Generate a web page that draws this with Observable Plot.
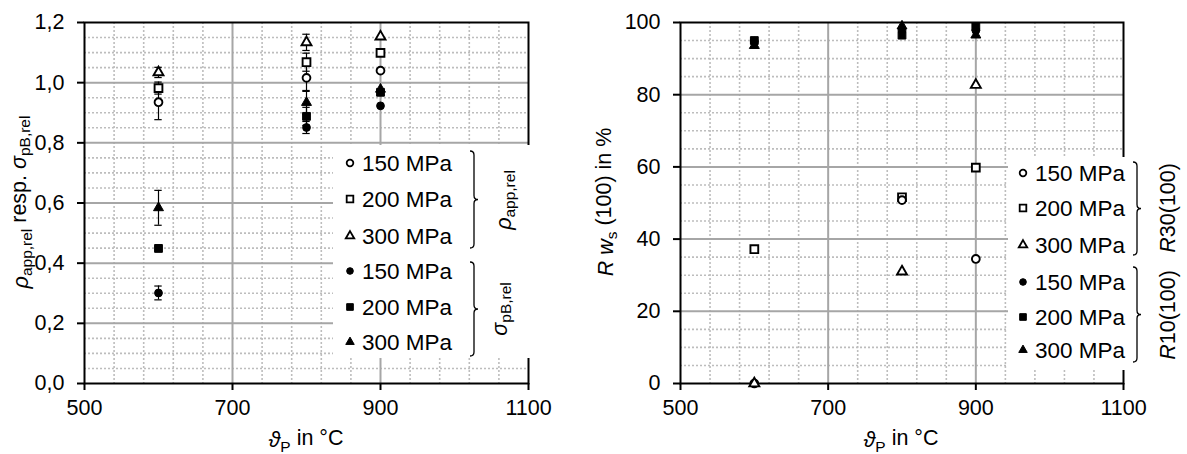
<!DOCTYPE html>
<html><head><meta charset="utf-8">
<script src="https://cdn.jsdelivr.net/npm/d3@7"></script>
<script src="https://cdn.jsdelivr.net/npm/@observablehq/plot@0.6"></script>
<style>
body{margin:0;background:#fff;}
#wrap{position:relative;width:1187px;height:454px;overflow:hidden;background:#fff;}
#wrap svg{position:absolute;top:0;}
</style></head><body><div id="wrap"></div>
<script>
// ---------- data ----------
const temps = [600, 800, 900];
const pressureLabels = ["150 MPa", "200 MPa", "300 MPa"];
const xTicks = [500, 700, 900, 1100];

// left panel: relative apparent density and relative bending strength
const rhoApp150 = [0.935, 1.016, 1.040];
const rhoApp200 = [0.982, 1.068, 1.099];
const rhoApp300 = [1.034, 1.134, 1.153];
const sigma150 = [0.301, 0.851, 0.923];
const sigma200 = [0.449, 0.888, 0.968];
const sigma300 = [0.584, 0.934, 0.978];
const rhoApp150Err = [0.058, 0.045, 0];
const rhoApp200Err = [0.02, 0.03, 0];
const rhoApp300Err = [0.017, 0.027, 0];
const sigma150Err = [0.023, 0.02, 0];
const sigma200Err = [0.005, 0.03, 0];
const sigma300Err = [0.058, 0.04, 0];
const leftYTicks = [0, 0.2, 0.4, 0.6, 0.8, 1.0, 1.2];

// right panel: water resistance R ws(100) in %
const r30_150 = [0, 50.8, 34.5];
const r30_200 = [37.2, 51.6, 59.8];
const r30_300 = [0, 31.0, 82.7];
const r10_150 = [94.8, 97.8, 97.8];
const r10_200 = [95.0, 96.5, 98.8];
const r10_300 = [93.6, 99.0, 96.5];
const rightYTicks = [0, 20, 40, 60, 80, 100];

const symbols = ["circle", "square", "triangle"];
const radii = {circle: 3.9, square: 4.4, triangle: 3.7};

// ---------- helpers ----------
const FONT = "'Liberation Sans', Arial, sans-serif";
const TICK_FS = 21.5, LEG_FS = 22.5;

function series(groupVals, groupErrs, filled) {
  const out = [];
  groupVals.forEach((vals, i) => {
    vals.forEach((v, j) => {
      out.push({x: temps[j], y: v, e: groupErrs ? groupErrs[i][j] : 0,
        symbol: symbols[i], filled, r: radii[symbols[i]]});
    });
  });
  return out;
}
function minorTicks(lo, hi, step, majors) {
  const t = [];
  for (let v = lo; v <= hi + 1e-9; v += step) {
    const r = Math.round(v * 1000) / 1000;
    if (!majors.some(m => Math.abs(m - r) < 1e-9)) t.push(r);
  }
  return t;
}

function makePlot({width, marginLeft, marginRight, yDomain, yTicks, yMinorStep, yFmt, data, withErr}) {
  const gridMajor = {stroke: "#a6a6a6", strokeOpacity: 1, strokeWidth: 2};
  const gridMinor = {stroke: "#bdbdbd", strokeOpacity: 1, strokeWidth: 1.6, strokeDasharray: "2,2"};
  const marks = [
    Plot.gridX(minorTicks(500, 1100, 40, xTicks), gridMinor),
    Plot.gridY(minorTicks(yDomain[0], yDomain[1], yMinorStep, yTicks), gridMinor),
    Plot.gridX(xTicks.slice(1, -1), gridMajor),
    Plot.gridY(yTicks.slice(1, -1), gridMajor),
    Plot.frame({stroke: "black", strokeWidth: 2}),
    Plot.axisX(xTicks, {tickSize: 7, tickPadding: 9, fontSize: TICK_FS, stroke: "black", strokeWidth: 2, fill: "black", tickFormat: d => String(d), label: null}),
    Plot.axisY(yTicks, {tickSize: 7, tickPadding: 13, fontSize: TICK_FS, stroke: "black", strokeWidth: 2, fill: "black", tickFormat: yFmt, label: null})
  ];
  if (withErr) {
    const errData = data.filter(d => d.e > 0);
    marks.push(Plot.ruleX(errData, {x: "x", y1: d => d.y - d.e, y2: d => d.y + d.e, stroke: "black", strokeWidth: 1.2}));
    marks.push(Plot.ruleY(errData, {y: d => d.y + d.e, x1: d => d.x - 5, x2: d => d.x + 5, stroke: "black", strokeWidth: 1.2}));
    marks.push(Plot.ruleY(errData, {y: d => d.y - d.e, x1: d => d.x - 5, x2: d => d.x + 5, stroke: "black", strokeWidth: 1.2}));
  }
  marks.push(Plot.dot(data, {x: "x", y: "y", symbol: "symbol", r: "r",
    fill: d => d.filled ? "black" : "white", stroke: "black", strokeWidth: d => d.filled ? 1 : 1.9}));
  return Plot.plot({
    width, height: 454, marginLeft, marginRight, marginTop: 22, marginBottom: 71,
    style: {fontFamily: FONT, fontSize: TICK_FS + "px", color: "black", background: "white"},
    x: {domain: [500, 1100], label: null},
    y: {domain: yDomain, label: null},
    symbol: {type: "identity"},
    r: {type: "identity"},
    marks
  });
}

function subText(sel, parts) {
  parts.forEach(([t, o = {}]) => {
    const ts = sel.append("tspan").text(t);
    if (o.italic) ts.attr("font-style", "italic");
    if (o.sub) ts.attr("font-size", "72%").attr("dy", "0.3em");
    if (o.unsub) ts.attr("dy", "-0.3em");
  });
}

function brace(g, x, y1, y2) {
  const r = 4, m = (y1 + y2) / 2;
  g.append("path").attr("fill", "none").attr("stroke", "black").attr("stroke-width", 1.3)
    .attr("d", `M${x},${y1} Q${x + r},${y1} ${x + r},${y1 + r} L${x + r},${m - r} Q${x + r},${m} ${x + 2 * r},${m} Q${x + r},${m} ${x + r},${m + r} L${x + r},${y2 - r} Q${x + r},${y2} ${x},${y2}`);
}

function legend(svg, {bx, by, bw, bh, mx, tx, rows, filledFrom}) {
  const g = d3.select(svg).append("g").attr("text-anchor", "start");
  g.append("rect").attr("x", bx).attr("y", by).attr("width", bw).attr("height", bh).attr("fill", "white");
  const sym = {circle: d3.symbolCircle, square: d3.symbolSquare, triangle: d3.symbolTriangle};
  rows.forEach((y, i) => {
    const s = symbols[i % 3];
    const filled = i >= filledFrom;
    const r = radii[s] * 0.85;
    g.append("path").attr("transform", `translate(${mx},${y})`)
      .attr("d", d3.symbol(sym[s], Math.PI * r * r)())
      .attr("fill", filled ? "black" : "white").attr("stroke", "black").attr("stroke-width", filled ? 1 : 1.8);
    g.append("text").attr("x", tx).attr("y", y).attr("dy", "0.36em").attr("text-anchor", "start")
      .attr("font-size", LEG_FS).attr("font-family", FONT).attr("fill", "black").text(pressureLabels[i % 3]);
  });
  return g;
}

function rotLabel(svg, x, y, parts, fs) {
  const t = d3.select(svg).append("text").attr("transform", `translate(${x},${y}) rotate(-90)`)
    .attr("text-anchor", "middle").attr("dy", "0.35em").attr("font-size", fs).attr("font-family", FONT).attr("fill", "black");
  subText(t, parts);
}

// ---------- left panel ----------
const leftData = [
  ...series([rhoApp150, rhoApp200, rhoApp300], [rhoApp150Err, rhoApp200Err, rhoApp300Err], false),
  ...series([sigma150, sigma200, sigma300], [sigma150Err, sigma200Err, sigma300Err], true)
];
const left = makePlot({width: 593, marginLeft: 84, marginRight: 65, yDomain: [0, 1.2], yTicks: leftYTicks,
  yMinorStep: 0.05, yFmt: d => d.toFixed(1).replace(".", ","), data: leftData, withErr: true});
left.style.left = "0px";
document.getElementById("wrap").appendChild(left);

const lg = legend(left, {bx: 333, by: 145, bw: 205, bh: 213, mx: 350, tx: 362,
  rows: [163, 199, 236, 271, 307, 342], filledFrom: 3});
brace(lg, 470, 151, 248);
brace(lg, 470, 262, 356);
rotLabel(left, 503, 200, [["ρ", {italic: true}], ["app,rel", {sub: true}]], TICK_FS);
rotLabel(left, 499, 309, [["σ", {italic: true}], ["pB,rel", {sub: true}]], TICK_FS);
rotLabel(left, 20, 202, [["ρ", {italic: true}], ["app,rel", {sub: true}], [" resp. ", {unsub: true}], ["σ", {italic: true}], ["pB,rel", {sub: true}]], TICK_FS);
{
  const t = d3.select(left).append("text").attr("x", 306).attr("y", 447).attr("text-anchor", "middle")
    .attr("font-size", TICK_FS).attr("font-family", FONT).attr("fill", "black");
  subText(t, [["ϑ", {italic: true}], ["P", {sub: true}], [" in °C", {unsub: true}]]);
}

// ---------- right panel ----------
const rightData = [
  ...series([r30_150, r30_200, r30_300], null, false),
  ...series([r10_150, r10_200, r10_300], null, true)
];
const right = makePlot({width: 594, marginLeft: 87, marginRight: 64, yDomain: [0, 100], yTicks: rightYTicks,
  yMinorStep: 5, yFmt: d => String(d), data: rightData, withErr: false});
right.style.left = "593px";
document.getElementById("wrap").appendChild(right);

const rg = legend(right, {bx: 415, by: 157, bw: 179, bh: 213, mx: 430, tx: 442,
  rows: [173, 208, 245, 282, 317, 350], filledFrom: 3});
brace(rg, 540, 162, 255);
brace(rg, 540, 267, 362);
rotLabel(right, 574, 208, [["R", {italic: true}], ["30(100)"]], TICK_FS);
rotLabel(right, 574, 315, [["R", {italic: true}], ["10(100)"]], TICK_FS);
rotLabel(right, 12, 202, [["R ", {italic: true}], ["w", {italic: true}], ["s", {sub: true}], [" (100) in %", {unsub: true}]], TICK_FS);
{
  const t = d3.select(right).append("text").attr("x", 308).attr("y", 447).attr("text-anchor", "middle")
    .attr("font-size", TICK_FS).attr("font-family", FONT).attr("fill", "black");
  subText(t, [["ϑ", {italic: true}], ["P", {sub: true}], [" in °C", {unsub: true}]]);
}
</script></body></html>
